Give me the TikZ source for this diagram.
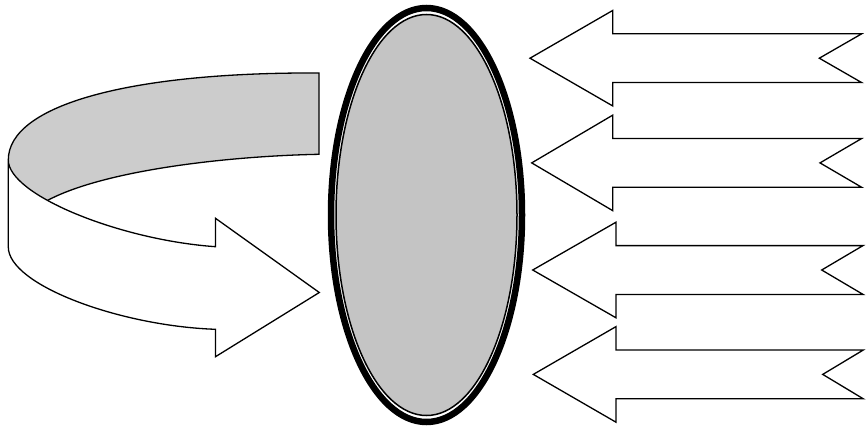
\documentclass[tikz,border=0pt]{standalone}
\begin{document}
\begin{tikzpicture}[x=1pt,y=-1pt,line join=miter]
\definecolor{ovalgrey}{RGB}{196,196,196}
\definecolor{bandgrey}{RGB}{204,204,204}
\tikzset{
  blockarrow/.style={draw=black,fill=white,line width=1.3pt},
  bandface/.style={fill=bandgrey},
  bandline/.style={draw=black,line width=1.3pt}
}
\useasboundingbox (0,0) rectangle (867,433);

% ---- curved ribbon arrow (left)
\fill[bandface] (319,73) .. controls (130,72) and (8.3,105) .. (8.3,160)
  -- (8.3,232) -- (45,232) -- (45,202.7)
  .. controls (100,170) and (230,156) .. (319,154.3) -- cycle;
\draw[bandline] (8.3,160) .. controls (8.3,105) and (130,72) .. (319,73)
  -- (319,154.3) .. controls (230,156) and (100,170) .. (43.3,202.7);
\draw[blockarrow] (8.3,160) .. controls (8.3,195) and (120,240) .. (215.5,246.7)
  -- (215.5,218.3) -- (319.3,292.5) -- (215.5,356.7) -- (215.5,329.3)
  .. controls (120,326) and (8.3,285) .. (8.3,247) -- cycle;

% ---- central oval
\fill[white] (426.5,215) ellipse [x radius=95.5, y radius=207];
\fill[ovalgrey] (426.5,215) ellipse [x radius=90.5, y radius=200.5];
\draw[line width=6.5pt] (426.5,215) ellipse [x radius=95.5, y radius=207];
\draw[line width=1.5pt] (426.5,215) ellipse [x radius=90.5, y radius=200.5];

% ---- four block arrows (right)
\foreach \tx/\cy/\bx/\nx/\ex in {530/58.2/612.8/819.3/861.7,
                                  531.7/162.9/612.8/820/861.7,
                                  532.7/270/616/821.7/863,
                                  533.3/374.4/616/822.7/863.3}{
  \draw[blockarrow] (\tx,\cy) -- (\bx,\cy-47.8) -- (\bx,\cy-24.4) -- (\ex,\cy-24.4)
    -- (\nx,\cy) -- (\ex,\cy+24.4) -- (\bx,\cy+24.4) -- (\bx,\cy+47.8) -- cycle;
}
\end{tikzpicture}
\end{document}
